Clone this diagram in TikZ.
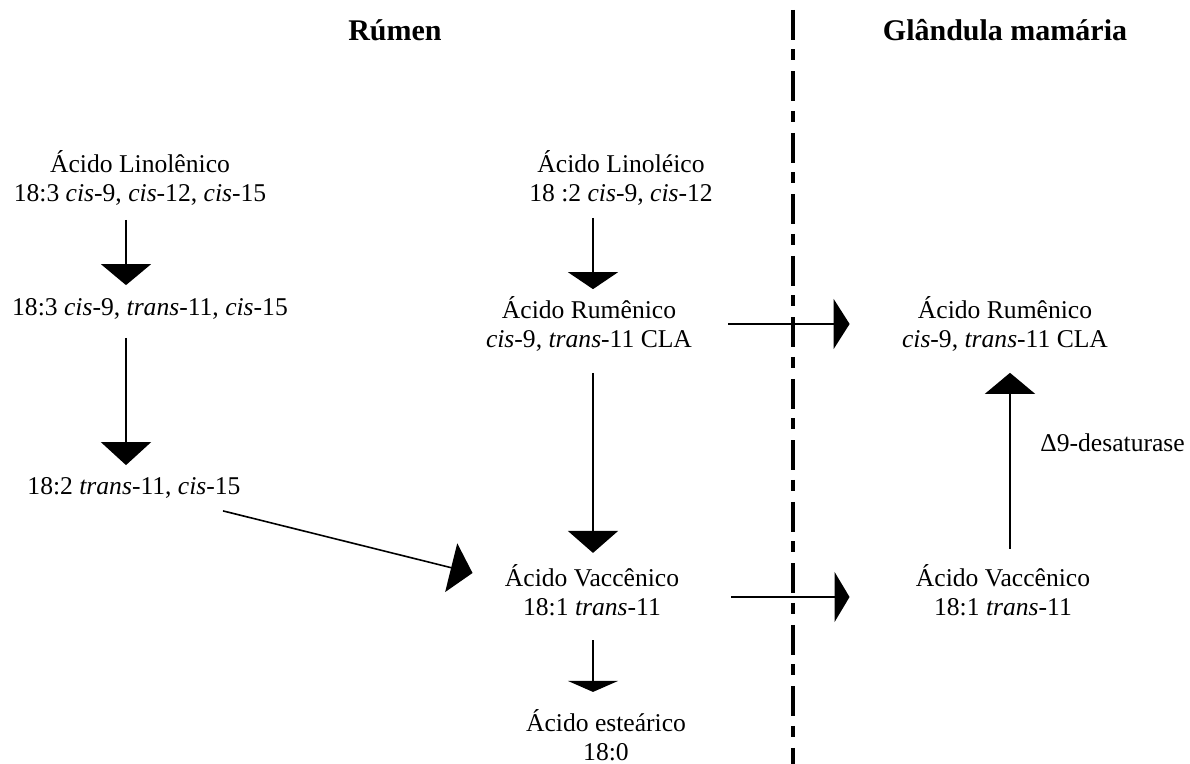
\documentclass[tikz,border=0pt]{standalone}
\usepackage{fontspec}
\setmainfont{Liberation Serif}
\usetikzlibrary{arrows.meta}

\tikzset{
  texto/.style={align=center, inner sep=0pt, font=\fontsize{12.8}{14.5}\selectfont},
  titulo/.style={inner sep=0pt, font=\fontsize{15}{18}\selectfont\bfseries},
  seta/.style={-{Triangle[length=#1,width=25pt]}, line width=0.8pt},
  seta/.default=10.5pt,
  divisa/.style={line width=2pt, dash pattern=on 15pt off 4.75pt on 5.5pt off 5.5pt}
}

\begin{document}
\begin{tikzpicture}[x=0.5pt,y=-0.5pt]
\useasboundingbox (0,0) rectangle (1190,764);

% titulos e divisa
\node[titulo] (rumen) at (395,30) {Rúmen};
\node[titulo] (glandula) at (1005,30) {Glândula mamária};
\draw[divisa] (793,10) -- (793,764);

% colunas das setas
\coordinate (colA) at (126,0);
\coordinate (colB) at (593,0);
\coordinate (colC) at (1010,0);

% rumen, esquerda
\node[texto] (l1) at (140,178) {Ácido Linolênico\\18:3 \textit{cis}-9, \textit{cis}-12, \textit{cis}-15};
\node[texto] (l2) at (150,309) {18:3 \textit{cis}-9, \textit{trans}-11, \textit{cis}-15};
\node[texto] (l3) at (134,488) {18:2 \textit{trans}-11, \textit{cis}-15};

% rumen, meio
\node[texto] (m1) at (621,178) {Ácido Linoléico\\18 :2 \textit{cis}-9, \textit{cis}-12};
\node[texto] (m2) at (589,324) {Ácido Rumênico\\\textit{cis}-9, \textit{trans}-11 CLA};
\node[texto] (m3) at (592,590) {Ácido Vaccênico\\18:1 \textit{trans}-11};
\node[texto] (m4) at (606,735) {Ácido esteárico\\18:0};

% glandula mamaria
\node[texto] (r1) at (1005,324) {Ácido Rumênico\\\textit{cis}-9, \textit{trans}-11 CLA};
\node[texto] (r2) at (1003,590) {Ácido Vaccênico\\18:1 \textit{trans}-11};
\node[texto, anchor=west] (desat) at (1040,443) {Δ9-desaturase};

% setas
\draw[seta, shorten <=7pt, shorten >=6.5pt] (l1.south -| colA) -- (l2.north -| colA);
\draw[seta=11.5pt, shorten <=9pt, shorten >=6pt] (l2.south -| colA) -- (l3.north -| colA);
\draw[seta=11pt] ([xshift=-9pt,yshift=-6pt]l3.south east) -- ([xshift=-16pt,yshift=8.5pt]m3.west);
\draw[seta=8.5pt, shorten <=6pt, shorten >=3.5pt] (m1.south -| colB) -- (m2.north -| colB);
\draw[seta=11pt, shorten <=10.5pt, shorten >=5.5pt] (m2.south -| colB) -- (m3.north -| colB);
\draw[seta=5.5pt, shorten <=12pt, shorten >=8.5pt] (m3.south -| colB) -- (m4.north -| colB);
\draw[seta=8pt, shorten <=18pt, shorten >=26pt] (m2.east) -- (r1.west);
\draw[seta=7.5pt, shorten <=26pt, shorten >=33pt] ([yshift=-3.5pt]m3.east) -- ([yshift=-3.5pt]r2.west);
\draw[seta, shorten <=7.5pt, shorten >=10.5pt] (r2.north -| colC) -- (r1.south -| colC);
\end{tikzpicture}
\end{document}
